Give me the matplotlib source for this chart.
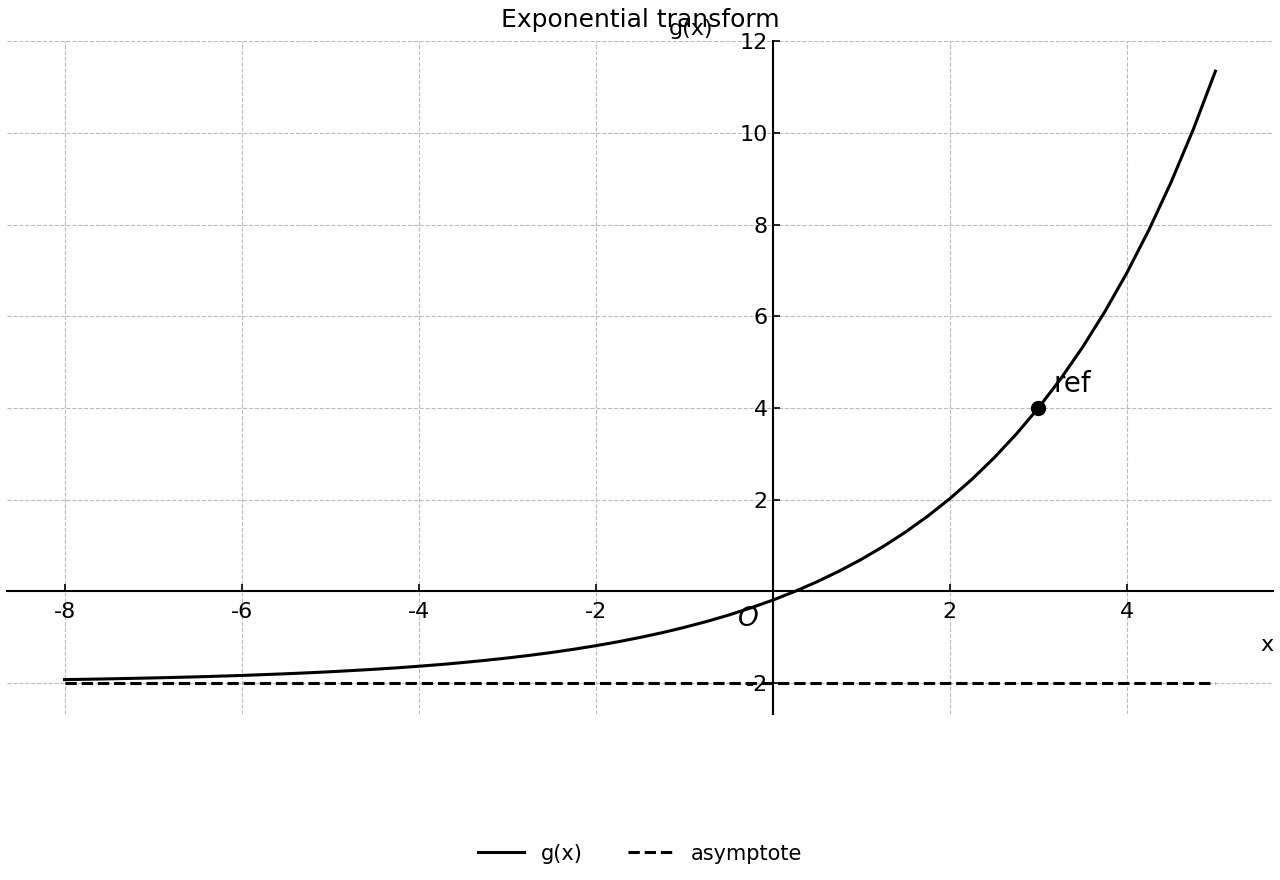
import matplotlib.pyplot as plt
import numpy as np

# values (quarter steps)
x_vals = [-8, -7.75, -7.5, -7.25, -7, -6.75, -6.5, -6.25, -6, -5.75, -5.5,
          -5.25, -5, -4.75, -4.5, -4.25, -4, -3.75, -3.5, -3.25, -3, -2.75,
          -2.5, -2.25, -2, -1.75, -1.5, -1.25, -1, -0.75, -0.5, -0.25, 0,
          0.25, 0.5, 0.75, 1, 1.25, 1.5, 1.75, 2, 2.25, 2.5, 2.75, 3, 3.25,
          3.5, 3.75, 4, 4.25, 4.5, 4.75, 5]
g_vals = [-1.926, -1.919, -1.910, -1.900, -1.890, -1.878, -1.866, -1.851,
          -1.836, -1.818, -1.799, -1.778, -1.755, -1.729, -1.701, -1.670,
          -1.635, -1.597, -1.554, -1.507, -1.455, -1.398, -1.335, -1.265,
          -1.187, -1.102, -1.007, -0.903, -0.787, -0.660, -0.519, -0.363,
          -0.192, -0.002, 0.209, 0.441, 0.697, 0.981, 1.294, 1.640, 2.022,
          2.445, 2.913, 3.430, 4.0, 4.631, 5.328, 6.099, 6.95, 7.891, 8.93,
          10.079, 11.35]
asym_x = [-8, 5]
asym_y = [-2, -2]
ref_pt = (3, 4)
x_ticks = [-8, -6, -4, -2, 2, 4]
y_ticks = [-2, 2, 4, 6, 8, 10, 12]

fig = plt.figure(figsize=(12.8, 8.8), dpi=100)
ax = fig.add_axes([0.0055, 0.189, 0.989, 0.764])

ax.plot(x_vals, g_vals, color='black', lw=2.2, label='g(x)')
ax.plot(asym_x, asym_y, color='black', lw=2.2, ls='--', label='asymptote')
ax.plot(*ref_pt, 'o', color='black', ms=10)
ax.text(ref_pt[0] + 0.17, ref_pt[1] + 0.35, 'ref', fontsize=20)

ax.spines['left'].set_position(('data', 0))
ax.spines['bottom'].set_position(('data', 0))
ax.spines['right'].set_visible(False)
ax.spines['top'].set_visible(False)
ax.spines['left'].set_linewidth(1.5)
ax.spines['bottom'].set_linewidth(1.5)

ax.set_xticks(x_ticks)
ax.set_yticks(y_ticks)
ax.set_xticklabels([str(t) for t in x_ticks])
ax.set_yticklabels([str(t) for t in y_ticks])
ax.tick_params(direction='in', labelsize=16, length=5, width=1.2)
ax.tick_params(axis='x', pad=8)
ax.grid(True, ls='--', color='#bbbbbb', lw=0.8)

ax.set_ylim(-2.67, 12.0)
ax.set_xlim(-8.65, 5.65)

ax.text(-0.28, -0.6, 'O', fontsize=19, style='italic', ha='center', va='center')
fig.text(0.99, 0.267, 'x', fontsize=16, ha='center', va='center')
fig.text(0.54, 0.967, 'g(x)', fontsize=16, ha='center', va='center')
fig.text(0.5, 0.977, 'Exponential transform', fontsize=18, ha='center', va='center')

fig.legend(loc='center', bbox_to_anchor=(0.5, 0.03), ncol=2, frameon=False,
           fontsize=15, handlelength=2.2, columnspacing=2.2)

fig.savefig('out.png')
